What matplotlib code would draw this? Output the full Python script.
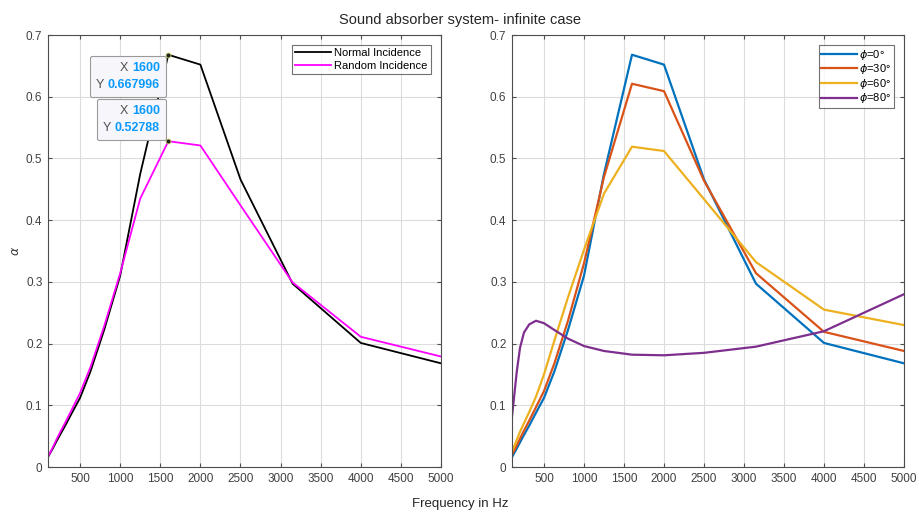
import numpy as np
import matplotlib
matplotlib.use('Agg')
import matplotlib.pyplot as plt
from matplotlib.offsetbox import TextArea, HPacker, VPacker, AnnotationBbox

plt.rcParams['font.family'] = ['Liberation Sans', 'DejaVu Sans']
plt.rcParams['mathtext.fontset'] = 'dejavusans'

# bandas de tercio de octava
freq = [100, 125, 160, 200, 250, 315, 400, 500, 630, 800, 1000,
        1250, 1600, 2000, 2500, 3150, 4000, 5000]

# incidencia normal (= phi 0)
alpha_normal = [0.016, 0.022, 0.030, 0.040, 0.052, 0.067, 0.088, 0.112, 0.155, 0.222, 0.310,
                0.475, 0.667996, 0.652, 0.466, 0.297, 0.201, 0.168]
# incidencia aleatoria
alpha_random = [0.017, 0.023, 0.032, 0.043, 0.056, 0.072, 0.094, 0.120, 0.162, 0.228, 0.314,
                0.435, 0.52788, 0.521, 0.424, 0.299, 0.211, 0.179]

alpha_phi0 = alpha_normal
alpha_phi30 = [0.020, 0.026, 0.035, 0.046, 0.059, 0.075, 0.097, 0.123, 0.168, 0.237, 0.330,
               0.470, 0.621, 0.609, 0.464, 0.314, 0.219, 0.188]
alpha_phi60 = [0.025, 0.033, 0.044, 0.057, 0.071, 0.089, 0.114, 0.150, 0.205, 0.275, 0.352,
               0.443, 0.519, 0.512, 0.434, 0.332, 0.255, 0.230]
alpha_phi80 = [0.082, 0.112, 0.155, 0.193, 0.218, 0.231, 0.237, 0.233, 0.222, 0.208, 0.196,
               0.188, 0.182, 0.181, 0.185, 0.195, 0.220, 0.280]

phi_labels = [r'$\phi$=0°', r'$\phi$=30°', r'$\phi$=60°', r'$\phi$=80°']
phi_colors = ['#0072BD', '#D95319', '#EDB120', '#7E2F8E']

tip_freq = 1600

fig = plt.figure(figsize=(9.2, 5.15), dpi=100)
ax1 = fig.add_axes([48/920, 1-467/515, 393/920, 432/515])
ax2 = fig.add_axes([512/920, 1-467/515, 392/920, 432/515])

def estilo(ax):
    ax.set_xlim(100, 5000)
    ax.set_ylim(0, 0.7)
    ax.set_xticks(np.arange(500, 5001, 500))
    ax.set_yticks(np.arange(0, 0.71, 0.1))
    ax.set_yticklabels(['0', '0.1', '0.2', '0.3', '0.4', '0.5', '0.6', '0.7'])
    ax.grid(True, color='#dcdcdc', linewidth=0.8)
    ax.set_axisbelow(True)
    ax.tick_params(direction='in', top=True, right=True, length=3, labelsize=8.5,
                   colors='#4d4d4d', labelcolor='#404040', pad=4)
    for s in ax.spines.values():
        s.set_color('#4d4d4d')
        s.set_linewidth(0.8)

# panel izquierdo
ax1.plot(freq, alpha_normal, color='k', lw=1.3, label='Normal Incidence')
ax1.plot(freq, alpha_random, color='#ff00ff', lw=1.3, label='Random Incidence')
estilo(ax1)
ax1.set_ylabel(r'$\alpha$', fontsize=9, color='#404040')
ax1.yaxis.set_label_coords(-0.066, 0.5)
leg1 = ax1.legend(loc='upper right', fontsize=8, handlelength=3.2, fancybox=False,
                  edgecolor='#4d4d4d', borderpad=0.3, labelspacing=0.25,
                  handletextpad=0.3, borderaxespad=0.9)
leg1.get_frame().set_linewidth(0.8)

# datatips
i = freq.index(tip_freq)
for yval, txt, align, off in [(alpha_normal[i], '0.667996', (1, 1), (-6, -5.5)),
                              (alpha_random[i], '0.52788', (1, 0), (-6, 5.5))]:
    ax1.plot(tip_freq, yval, 'o', ms=3.5, color='#202020', mec='#c8c860', mew=0.6, zorder=7)
    fila_x = HPacker(children=[TextArea('X ', textprops=dict(color='#505050', size=9)),
                               TextArea(str(tip_freq), textprops=dict(color='#0a9aff', size=9, weight='bold'))],
                     align='baseline', pad=0, sep=0)
    fila_y = HPacker(children=[TextArea('Y ', textprops=dict(color='#505050', size=9)),
                               TextArea(txt, textprops=dict(color='#0a9aff', size=9, weight='bold'))],
                     align='baseline', pad=0, sep=0)
    caja = VPacker(children=[fila_x, fila_y], align='right', pad=0, sep=3)
    ab = AnnotationBbox(caja, (tip_freq, yval), xycoords='data', xybox=off,
                        boxcoords='offset points', box_alignment=align,
                        pad=0.45, frameon=True,
                        bboxprops=dict(boxstyle='round,pad=0.45,rounding_size=0.15',
                                       fc='#f7f7fb', ec='#9a9a9a', lw=0.8))
    ab.set_zorder(6)
    ax1.add_artist(ab)

# panel derecho
for vals, lab, col in zip([alpha_phi0, alpha_phi30, alpha_phi60, alpha_phi80], phi_labels, phi_colors):
    ax2.plot(freq, vals, color=col, lw=1.6, label=lab)
estilo(ax2)
leg2 = ax2.legend(loc='upper right', fontsize=8, handlelength=3.2, fancybox=False,
                  edgecolor='#4d4d4d', borderpad=0.25, labelspacing=0.05,
                  handletextpad=0.2, borderaxespad=0.9)
leg2.get_frame().set_linewidth(0.8)

fig.suptitle('Sound absorber system- infinite case', fontsize=10.5, color='#262626', y=0.975)
fig.supxlabel('Frequency in Hz', fontsize=9.5, color='#262626', y=0.01)

plt.savefig('out.png', dpi=100)
